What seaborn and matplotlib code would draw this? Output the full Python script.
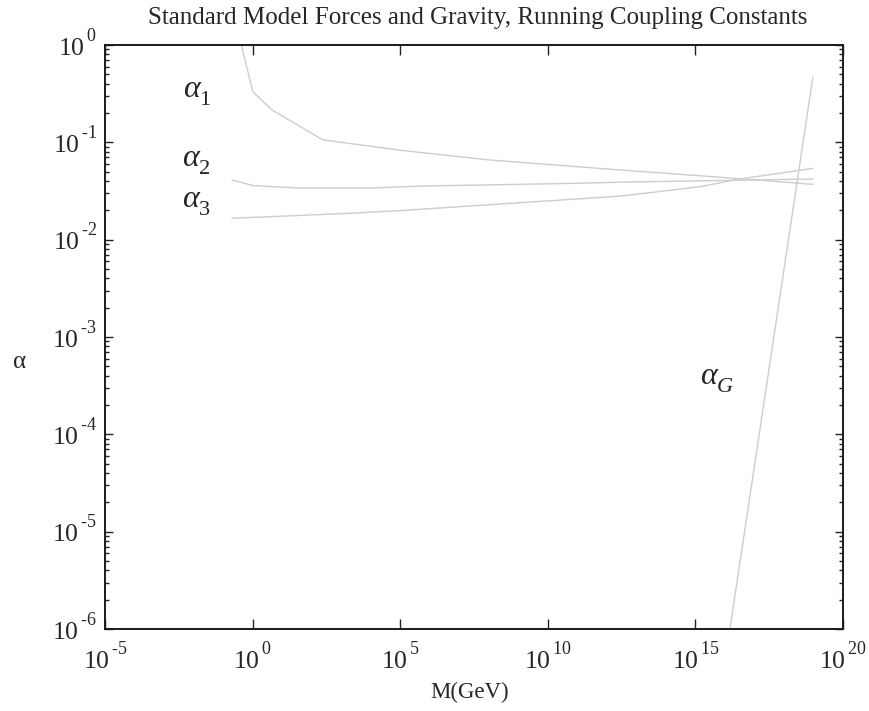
import numpy as np
import pandas as pd
import matplotlib
matplotlib.use("Agg")
import matplotlib.pyplot as plt
from matplotlib import ticker, _mathtext
from matplotlib.transforms import ScaledTranslation
import seaborn as sns

# Running couplings vs energy scale (log10 of M in GeV)
logm_a1 = [-0.4, 0.01, 0.66, 2.38, 5.0, 8.0, 12.45, 16.2, 18.98]
alpha_1 = [1.05, 0.33, 0.215, 0.106, 0.083, 0.066, 0.052, 0.043, 0.037]

logm_a2 = [-0.7, 0.0, 1.5, 4.1, 5.67, 11.1, 12.45, 18.98]
alpha_2 = [0.041, 0.036, 0.034, 0.034, 0.0355, 0.038, 0.039, 0.042]

logm_a3 = [-0.7, 1.7, 3.2, 5.0, 12.45, 15.15, 16.5, 18.98]
alpha_3 = [0.0166, 0.0178, 0.0186, 0.0199, 0.028, 0.035, 0.042, 0.054]

logm_ag = [16.17, 18.98]
alpha_g = [1e-6, 0.47]

x_ticks = [-5, 0, 5, 10, 15, 20]
y_ticks = [-6, -5, -4, -3, -2, -1, 0]

frames = []
for name, lm, a in [("a1", logm_a1, alpha_1), ("a2", logm_a2, alpha_2),
                    ("a3", logm_a3, alpha_3), ("aG", logm_ag, alpha_g)]:
    frames.append(pd.DataFrame({"M": 10.0 ** np.array(lm), "alpha": a, "series": name}))
df = pd.concat(frames, ignore_index=True)

sns.set_style("white")
plt.rcParams["font.family"] = ["Liberation Serif", "DejaVu Serif"]
plt.rcParams["mathtext.fontset"] = "custom"
plt.rcParams["mathtext.rm"] = "Liberation Serif"
plt.rcParams["mathtext.it"] = "Liberation Serif:italic"
plt.rcParams["mathtext.bf"] = "Liberation Serif:bold"
plt.rcParams["axes.unicode_minus"] = False

# Higher exponents and deeper subscripts, typewriter-era style
_mathtext.FontConstantsBase.sup1 = 1.15
_mathtext.FontConstantsBase.sub1 = 0.55

fig = plt.figure(figsize=(8.69, 7.11), dpi=100)
ax = fig.add_axes([105 / 869, 1 - 629 / 711, (843 - 105) / 869, (629 - 45) / 711])

sns.lineplot(data=df, x="M", y="alpha", hue="series", units="series",
             estimator=None, sort=False, legend=False,
             palette=["#cdcdcd"] * 4, linewidth=1.0, ax=ax)

ax.set_xscale("log")
ax.set_yscale("log")
ax.set_xlim(1e-5, 1e20)
ax.set_ylim(1e-6, 1e0)

ax.xaxis.set_major_locator(ticker.FixedLocator([10.0 ** e for e in x_ticks]))
ax.xaxis.set_minor_locator(ticker.NullLocator())
ax.yaxis.set_major_locator(ticker.FixedLocator([10.0 ** e for e in y_ticks]))
ax.yaxis.set_minor_locator(ticker.LogLocator(base=10, subs=np.arange(2, 10), numticks=20))
ax.yaxis.set_minor_formatter(ticker.NullFormatter())


def pow_label(v, pos):
    e = int(round(np.log10(v)))
    return r"$10^{\,\text{%d}}$" % e


ax.xaxis.set_major_formatter(ticker.FuncFormatter(pow_label))
ax.yaxis.set_major_formatter(ticker.FuncFormatter(pow_label))

ax.tick_params(axis="x", which="major", direction="in", length=7, width=1.0,
               top=True, bottom=True, labelsize=18.5, pad=9, color="#222222")
ax.tick_params(axis="y", which="major", direction="in", length=5.5, width=1.0,
               left=True, right=True, labelsize=18.5, pad=6, color="#222222")
ax.tick_params(axis="y", which="minor", direction="in", length=2.8, width=1.0,
               left=True, right=True, color="#222222")

for s in ax.spines.values():
    s.set_linewidth(1.4)
    s.set_color("#1a1a1a")

ax.set_xlabel("")
ax.set_ylabel("")
fig.text(470 / 869, 1 - 692 / 711, "M(GeV)", ha="center", va="center", fontsize=16.5)
fig.text(20 / 869, 1 - 362 / 711, "α", ha="center", va="center", fontsize=18)
fig.text(478 / 869, 1 - 18 / 711, "Standard Model Forces and Gravity, Running Coupling Constants",
         ha="center", va="center", fontsize=18)

# Curve labels
lab_kw = dict(fontsize=23, ha="left", va="baseline")
ax.text(10 ** -2.35, 10 ** -0.545, r"$\alpha_{\text{1}}$", **lab_kw)
ax.text(10 ** -2.4, 10 ** -1.254, r"$\alpha_{\text{2}}$", **lab_kw)
ax.text(10 ** -2.4, 10 ** -1.675, r"$\alpha_{\text{3}}$", **lab_kw)
ax.text(10 ** 15.16, 10 ** -3.494, r"$\alpha_{G}$", **lab_kw)

# Lift the y tick labels so the "10" sits level with its tick
fig.canvas.draw()
lift = ScaledTranslation(0, 3 / 100, fig.dpi_scale_trans)
for t in ax.yaxis.get_major_ticks():
    t.label1.set_transform(t.label1.get_transform() + lift)

fig.savefig("out.png", dpi=100)
